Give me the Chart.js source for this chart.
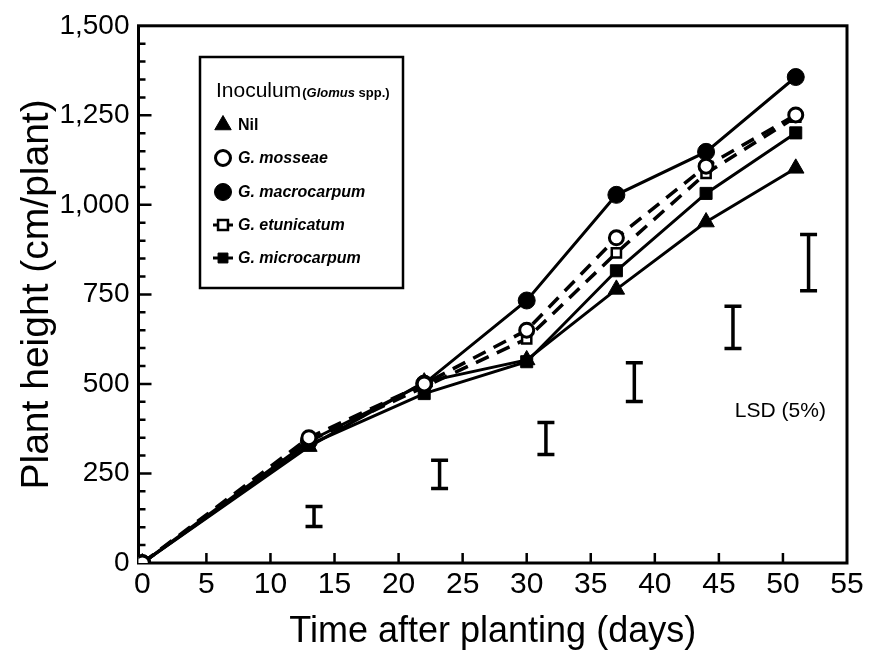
<!DOCTYPE html>
<html>
<head>
<meta charset="utf-8">
<script src="https://cdn.jsdelivr.net/npm/chart.js@4.4.1/dist/chart.umd.min.js"></script>
<style>
html, body { margin: 0; padding: 0; background: #fff; }
#wrap { position: relative; width: 877px; height: 660px; }
</style>
</head>
<body>
<div id="wrap"><canvas id="growthChart" width="877" height="660"></canvas></div>
<script>
// days after planting and plant height (cm/plant) per inoculum
const days = [0, 13, 22, 30, 37, 44, 51];
const nil = [0, 325, 505, 567, 764, 952, 1102];
const mosseae = [0, 350, 500, 650, 908, 1108, 1251];
const macrocarpum = [0, 340, 501, 733, 1028, 1148, 1357];
const etunicatum = [0, 340, 492, 626, 866, 1088, 1245];
const microcarpum = [0, 330, 473, 562, 816, 1032, 1201];

// LSD (5%) bars
const lsdDays = [13.4, 23.2, 31.5, 38.4, 46.1, 52.0];
const lsdLow = [102, 208, 303, 451, 599, 760];
const lsdHigh = [158, 287, 392, 559, 717, 917];

const xTicks = [0, 5, 10, 15, 20, 25, 30, 35, 40, 45, 50, 55];
const yTicks = [0, 250, 500, 750, 1000, 1250, 1500];
const yMinorStep = 50;

const FONT = "'Liberation Sans', Arial, Helvetica, sans-serif";
Chart.defaults.font.family = FONT;
Chart.defaults.color = '#000';

const pts = vals => days.map((d, i) => ({ x: d, y: vals[i] }));
const lsdPoints = lsdDays.flatMap((d, i) => [
    { x: d, y: lsdLow[i] }, { x: d, y: lsdHigh[i] }, { x: d, y: null }
]);

const series = [
    { label: 'G. mosseae', data: pts(mosseae), dash: [14, 9], style: 'circle', r: 7, fill: '#fff', pbw: 3 },
    { label: 'G. macrocarpum', data: pts(macrocarpum), dash: [], style: 'circle', r: 8.5, fill: '#000', pbw: 1 },
    { label: 'G. etunicatum', data: pts(etunicatum), dash: [14, 9], style: 'rect', r: 6.5, fill: '#fff', pbw: 2.5 },
    { label: 'Nil', data: pts(nil), dash: [], style: 'triangle', r: 9.5, fill: '#000', pbw: 1 },
    { label: 'G. microcarpum', data: pts(microcarpum), dash: [], style: 'rect', r: 8.5, fill: '#000', pbw: 1 }
];

const datasets = series.map(s => ({
    label: s.label,
    data: s.data,
    borderColor: '#000',
    borderWidth: s.dash.length ? 3.5 : 3,
    borderDash: s.dash,
    pointStyle: s.style,
    pointRadius: s.r,
    pointBackgroundColor: s.fill,
    pointBorderColor: '#000',
    pointBorderWidth: s.pbw,
    tension: 0,
    fill: false
}));

datasets.push({
    label: 'LSD',
    data: lsdPoints,
    borderColor: '#000',
    borderWidth: 3.5,
    pointStyle: 'line',
    pointRadius: 8.5,
    pointBorderWidth: 3.5,
    pointBorderColor: '#000',
    spanGaps: false,
    fill: false
});

const legendOrder = ['Nil', 'G. mosseae', 'G. macrocarpum', 'G. etunicatum', 'G. microcarpum'];

const framePlugin = {
    id: 'frame',
    beforeDatasetsDraw(chart) {
        const { ctx, chartArea: a, scales: { x, y } } = chart;
        ctx.save();
        ctx.strokeStyle = '#000';
        ctx.lineWidth = 3;
        ctx.strokeRect(a.left, a.top, a.right - a.left, a.bottom - a.top);
        ctx.lineWidth = 2.5;
        ctx.beginPath();
        for (let v = yMinorStep; v < 1500; v += yMinorStep) {
            const py = y.getPixelForValue(v);
            const len = v % 250 === 0 ? 13 : 7;
            ctx.moveTo(a.left, py);
            ctx.lineTo(a.left + len, py);
        }
        xTicks.slice(1, -1).forEach(v => {
            const px = x.getPixelForValue(v);
            ctx.moveTo(px, a.bottom);
            ctx.lineTo(px, a.bottom - 10);
        });
        ctx.stroke();
        ctx.restore();
    },
    afterDraw(chart) {
        const { ctx, scales: { x, y } } = chart;
        ctx.save();
        // LSD label
        ctx.fillStyle = '#000';
        ctx.font = '21px ' + FONT;
        ctx.textAlign = 'center';
        ctx.textBaseline = 'middle';
        ctx.fillText('LSD (5%)', x.getPixelForValue(49.8), y.getPixelForValue(423));

        // legend box
        const bx = 200, by = 57, bw = 203, bh = 231;
        ctx.fillStyle = '#fff';
        ctx.fillRect(bx, by, bw, bh);
        ctx.strokeStyle = '#000';
        ctx.lineWidth = 2.5;
        ctx.strokeRect(bx, by, bw, bh);

        ctx.fillStyle = '#000';
        ctx.textAlign = 'left';
        ctx.textBaseline = 'alphabetic';
        let tx = 216;
        ctx.font = '21px ' + FONT;
        ctx.fillText('Inoculum', tx, 97);
        tx += ctx.measureText('Inoculum').width + 1;
        [['(', 'bold 13px '], ['Glomus', 'italic bold 13px '], [' spp.)', 'bold 13px ']].forEach(([t, f]) => {
            ctx.font = f + FONT;
            ctx.fillText(t, tx, 97);
            tx += ctx.measureText(t).width;
        });

        const rows = [125, 158, 192, 225, 258];
        const sizes = { triangle: 9.5, circle: 7.5, rect: 7 };
        legendOrder.forEach((name, i) => {
            const ds = chart.data.datasets.find(d => d.label === name);
            const ry = rows[i], mx = 223;
            if (ds.pointStyle === 'rect') {
                ctx.lineWidth = 3;
                ctx.beginPath();
                ctx.moveTo(mx - 10, ry);
                ctx.lineTo(mx + 10, ry);
                ctx.stroke();
            }
            ctx.fillStyle = ds.pointBackgroundColor;
            ctx.strokeStyle = '#000';
            ctx.lineWidth = ds.pointBorderWidth;
            const r = ds.label === 'G. macrocarpum' ? 8.5 : sizes[ds.pointStyle];
            Chart.helpers.drawPoint(ctx, { pointStyle: ds.pointStyle, radius: r, rotation: 0, borderWidth: ds.pointBorderWidth }, mx, ry);
            ctx.fillStyle = '#000';
            ctx.textBaseline = 'middle';
            ctx.font = (name === 'Nil' ? 'bold 16px ' : 'italic bold 16px ') + FONT;
            ctx.fillText(name, 238, ry + 1);
        });
        ctx.restore();
    }
};

new Chart(document.getElementById('growthChart'), {
    type: 'line',
    data: { datasets },
    options: {
        responsive: false,
        animation: false,
        devicePixelRatio: 1,
        layout: { padding: { top: 21, right: 30, left: 0, bottom: 0 } },
        plugins: { legend: { display: false }, tooltip: { enabled: false } },
        scales: {
            x: {
                type: 'linear',
                min: -0.3,
                max: 55,
                afterBuildTicks: axis => { axis.ticks = xTicks.map(v => ({ value: v })); },
                afterFit: s => { s.height = 97; },
                grid: { display: false, drawTicks: false },
                border: { display: false },
                ticks: { font: { size: 30 }, color: '#000', padding: 4, maxRotation: 0, autoSkip: false },
                title: { display: true, text: 'Time after planting (days)', font: { size: 36 }, color: '#000', padding: { top: 0, bottom: 6 } }
            },
            y: {
                type: 'linear',
                min: 0,
                max: 1500,
                afterBuildTicks: axis => { axis.ticks = yTicks.map(v => ({ value: v })); },
                afterFit: s => { s.width = 138.5; },
                grid: { display: false, drawTicks: false },
                border: { display: false },
                ticks: { font: { size: 28 }, color: '#000', padding: 9, callback: v => v.toLocaleString('en-US') },
                title: { display: true, text: 'Plant height (cm/plant)', font: { size: 39 }, color: '#000', padding: { top: 14, bottom: 0 } }
            }
        }
    },
    plugins: [framePlugin]
});
</script>
</body>
</html>
